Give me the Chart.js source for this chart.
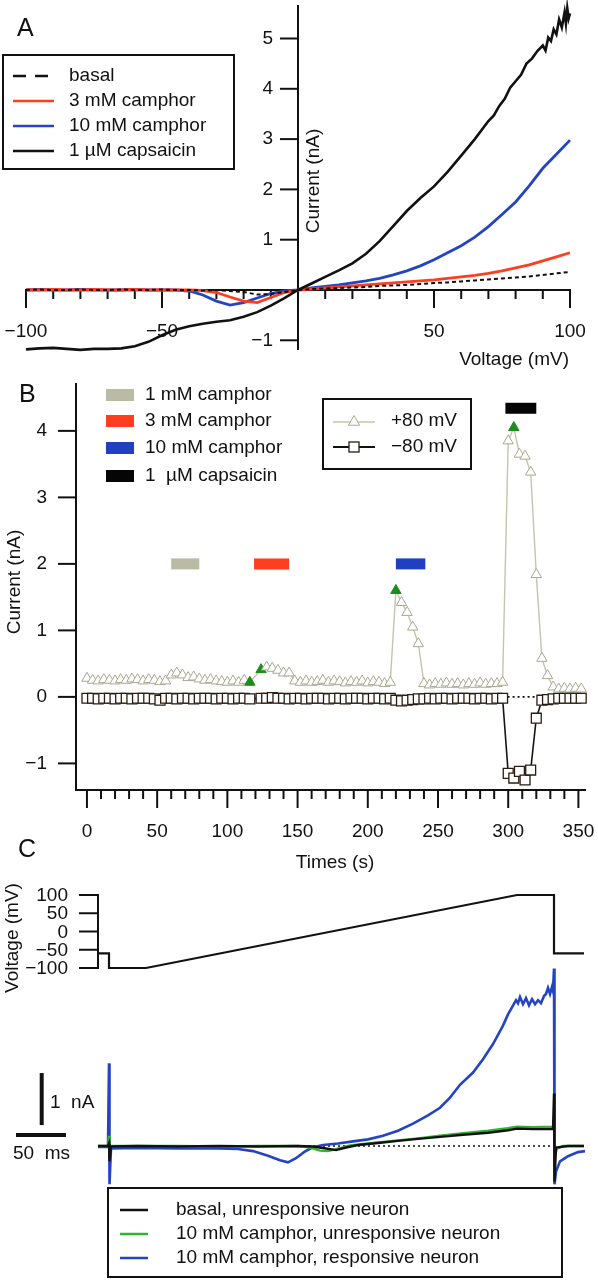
<!DOCTYPE html>
<html lang="en">

<head>
  <meta charset="UTF-8">
  <title>Camphor and capsaicin currents</title>
  <style>
    body {
      margin: 0;
      background-color: #ffffff;
    }

    #figure {
      position: relative;
      width: 598px;
      height: 1280px;
    }

    #figure canvas {
      position: absolute;
      left: 0;
      top: 0;
    }
  </style>
</head>

<body>
  <div id="figure">
    <canvas id="chartA" width="598" height="1280"></canvas>
    <canvas id="chartB" width="598" height="1280"></canvas>
    <canvas id="chartV" width="598" height="1280"></canvas>
    <canvas id="chartC" width="598" height="1280"></canvas>
  </div>

  <script src="https://cdn.jsdelivr.net/npm/chart.js"></script>

  <script>
    // ---------- Panel A: I-V curves (mV, nA) ----------
    const ivVoltage = [-100, -95, -90, -85, -80, -75, -70, -65, -60, -55, -50, -45, -40, -35, -30, -25, -20, -15, -10, -5,
      0, 5, 10, 15, 20, 25, 30, 35, 40, 45, 50, 55, 60, 65, 70, 75, 80, 85, 90, 95, 100];
    const ivBasal = [0, 0.01, 0, 0, 0.01, 0, 0, 0.01, 0, 0, 0.01, 0, 0, -0.01, 0, -0.02, -0.04, -0.09, -0.08, -0.04,
      0, 0.02, 0.03, 0.04, 0.05, 0.06, 0.08, 0.09, 0.1, 0.12, 0.14, 0.15, 0.17, 0.19, 0.21, 0.23, 0.25, 0.27, 0.3, 0.33, 0.36];
    const ivCamphor3 = [0, 0, 0.01, 0, 0, 0.01, 0, 0, 0.01, 0, 0, 0, 0, -0.01, -0.05, -0.14, -0.22, -0.25, -0.15, -0.05,
      0, 0.02, 0.04, 0.06, 0.08, 0.1, 0.12, 0.14, 0.16, 0.18, 0.2, 0.23, 0.26, 0.29, 0.33, 0.38, 0.44, 0.5, 0.58, 0.66, 0.74];
    const ivCamphor10 = [0, 0.01, 0, 0, 0.01, 0, 0, 0, 0.01, 0, 0, 0, -0.02, -0.1, -0.22, -0.3, -0.25, -0.16, -0.07, -0.02,
      0, 0.04, 0.07, 0.1, 0.14, 0.18, 0.23, 0.3, 0.38, 0.48, 0.6, 0.74, 0.88, 1.05, 1.26, 1.5, 1.75, 2.07, 2.42, 2.7, 2.98];
    const capsVoltage = [-100, -95, -90, -85, -80, -75, -70, -65, -60, -55, -50, -45, -40, -35, -30, -25, -20, -15, -10, -5,
      0, 5, 10, 15, 20, 25, 30, 35, 40, 45, 50, 55, 60, 65, 70, 72, 74, 76, 78, 80, 82, 84, 86, 88, 90,
      91, 92, 93, 94, 95, 96, 97, 98, 98.5, 99, 99.5, 100];
    const capsCurrent = [-1.18, -1.16, -1.15, -1.17, -1.19, -1.17, -1.17, -1.16, -1.12, -1.03, -0.9, -0.79, -0.72, -0.67, -0.63, -0.6, -0.53, -0.44, -0.31, -0.16,
      0, 0.13, 0.26, 0.39, 0.53, 0.72, 0.97, 1.27, 1.57, 1.83, 2.06, 2.35, 2.67, 3.0, 3.36, 3.47, 3.66, 3.8, 4.02, 4.15, 4.28, 4.5, 4.6, 4.75, 4.86,
      4.76, 5.02, 4.95, 5.18, 5.08, 5.38, 5.22, 5.52, 5.3, 5.6, 5.4, 5.5];
    const aLegend = ['basal', '3 mM camphor', '10 mM camphor', '1 µM capsaicin'];
    const aXMajor = [-100, -50, 50, 100];
    const aXMinor = [-90, -80, -70, -60, -40, -30, -20, -10, 10, 20, 30, 40, 60, 70, 80, 90];
    const aYTicks = [-1, 1, 2, 3, 4, 5];

    // ---------- Panel B: current at +80 / -80 mV over time (s, nA) ----------
    const bTimes = [0, 4, 8, 12, 16, 20, 24, 28, 32, 36, 40, 44, 48, 52, 56, 60, 64, 68, 72, 76, 80, 84, 88, 92, 96, 100, 104, 108, 112, 116,
      124, 128, 132, 136, 140, 144, 148, 152, 156, 160, 164, 168, 172, 176, 180, 184, 188, 192, 196, 200, 204, 208, 212, 216,
      220, 224, 228, 232, 236, 240, 244, 248, 252, 256, 260, 264, 268, 272, 276, 280, 284, 288, 292, 296,
      300, 304, 308, 312, 316, 320, 324, 328, 332, 336, 340, 344, 348, 352];
    const plus80 = [0.28, 0.25, 0.24, 0.26, 0.25, 0.24, 0.26, 0.25, 0.27, 0.26, 0.24, 0.26, 0.25, 0.23, 0.24, 0.33, 0.36, 0.33, 0.29, 0.3, 0.27, 0.25, 0.26, 0.24, 0.23, 0.22, 0.24, 0.22, 0.25, 0.22,
      0.41, 0.45, 0.43, 0.4, 0.36, 0.36, 0.24, 0.22, 0.24, 0.22, 0.23, 0.25, 0.22, 0.24, 0.23, 0.21, 0.23, 0.22, 0.24, 0.21, 0.23, 0.22, 0.2, 0.22,
      1.6, 1.42, 1.27, 1.05, 0.8, 0.2, 0.18, 0.2, 0.19, 0.21, 0.19, 0.2, 0.18, 0.2, 0.19, 0.21, 0.19, 0.2, 0.2, 0.22,
      3.85, 4.05, 3.65, 3.62, 3.38, 1.84, 0.58, 0.32, 0.15, 0.12, 0.13, 0.12, 0.13, 0.12];
    const minus80 = [-0.02, -0.02, -0.03, -0.02, -0.02, -0.03, -0.02, -0.02, -0.03, -0.02, -0.02, -0.02, -0.03, -0.05, -0.02, -0.02, -0.03, -0.02, -0.02, -0.03, -0.02, -0.02, -0.02, -0.03, -0.02, -0.02, -0.03, -0.02, -0.02, -0.03,
      -0.02, -0.02, -0.01, -0.02, -0.02, -0.03, -0.02, -0.02, -0.03, -0.02, -0.02, -0.02, -0.03, -0.02, -0.02, -0.03, -0.02, -0.02, -0.02, -0.03, -0.02, -0.02, -0.03, -0.02,
      -0.05, -0.06, -0.05, -0.04, -0.03, -0.03, -0.02, -0.03, -0.02, -0.02, -0.03, -0.02, -0.02, -0.02, -0.03, -0.02, -0.02, -0.03, -0.02, -0.02,
      -1.15, -1.22, -1.12, -1.25, -1.1, -0.32, -0.05, -0.04, -0.03, -0.02, -0.02, -0.02, -0.02, -0.02];
    const greenTimes = [116, 124, 220, 304];
    const zeroGapTimes = [296, 324];
    const stimNames = ['1 mM camphor', '3 mM camphor', '10 mM camphor', '1  µM capsaicin'];
    const stimStart = [60, 119, 220, 298];
    const stimEnd = [80, 144, 241, 320];
    const stimLevel = [2, 2, 2, 4.34];
    const stimColors = ['#b9bba5', '#ff3d1f', '#2040c0', '#050505'];
    const bXTicks = [0, 50, 100, 150, 200, 250, 300, 350];
    const bXMinor = [10, 20, 30, 40, 60, 70, 80, 90, 110, 120, 130, 140, 160, 170, 180, 190, 210, 220, 230, 240, 260, 270, 280, 290, 310, 320, 330, 340];
    const bYTicks = [-1, 0, 1, 2, 3, 4];

    // ---------- Panel C: ramp protocol and current traces (ms, mV / nA) ----------
    const rampTime = [0, 11, 11, 48, 419, 456, 456, 486];
    const rampVolt = [-60, -60, -100, -100, 100, 100, -60, -60];
    const vYTicks = [100, 50, 0, -50, -100];
    const basalTime = [0, 10, 11, 11.5, 13, 40, 80, 120, 160, 200, 215, 228, 238, 248, 260, 280, 300, 320, 342, 365, 390, 410, 419, 435, 455, 456, 456.5, 458, 470, 486];
    const basalCur = [0, 0, 0.05, -0.3, -0.01, 0, -0.01, 0, -0.01, 0, -0.01, -0.05, -0.08, -0.03, 0.02, 0.06, 0.1, 0.14, 0.18, 0.22, 0.26, 0.31, 0.34, 0.33, 0.33, 1.03, -0.7, -0.03, 0, 0];
    const unrespTime = [0, 10, 11, 11.5, 13, 40, 80, 120, 160, 200, 212, 222, 230, 240, 252, 270, 300, 320, 342, 365, 390, 410, 419, 435, 455, 456, 456.5, 459, 465, 486];
    const unrespCur = [0, 0, 0.2, -0.05, 0, 0, 0, -0.01, 0, 0, -0.03, -0.09, -0.1, -0.05, 0.01, 0.05, 0.11, 0.15, 0.2, 0.25, 0.3, 0.35, 0.38, 0.37, 0.38, 0.5, -0.2, -0.05, 0, 0];
    const respTime = [0, 10, 11, 11.5, 13, 40, 80, 120, 140, 155, 170, 182, 190, 198, 206, 214, 225, 240, 255, 270, 285, 300, 315, 330, 342, 352, 362, 375, 385, 395,
      405, 410, 414, 418, 420, 422, 425, 428, 431, 434, 437, 440, 443, 446, 448, 450, 452, 454, 455, 456, 456.5, 458, 462, 470, 480, 487];
    const respCur = [-0.02, -0.02, 1.62, -0.75, -0.05, -0.04, -0.05, -0.05, -0.06, -0.1, -0.19, -0.28, -0.32, -0.24, -0.12, -0.03, 0.02, 0.05, 0.09, 0.13, 0.2, 0.3, 0.44, 0.6, 0.75, 0.95, 1.2, 1.44, 1.7, 2.0,
      2.36, 2.58, 2.72, 2.86, 2.8, 2.92, 2.78, 2.9, 2.76, 2.88, 2.78, 2.86, 2.8, 2.94, 2.98, 3.1, 2.98, 3.12, 3.04, 3.48, -0.75, -0.5, -0.3, -0.2, -0.12, -0.1];
    const zeroTime = [0, 456];
    const cLegend = ['basal, unresponsive neuron', '10 mM camphor, unresponsive neuron', '10 mM camphor, responsive neuron'];

    const INK = '#111111';
    const FAMILY = "'Liberation Sans', Arial, Helvetica, sans-serif";
    const FONT = '19px ' + FAMILY;
    const LETTER = '25px ' + FAMILY;
    const RED = '#ff3d1f';
    const BLUE = '#2444c4';
    const GREEN = '#2fb52f';
    const TRI_LINE = '#c4c4b0';

    Chart.defaults.font.family = FAMILY;
    Chart.defaults.animation = false;
    Chart.defaults.events = [];
    Chart.defaults.plugins.legend.display = false;
    Chart.defaults.plugins.tooltip.enabled = false;

    function pairs(xs, ys) {
      return xs.map((x, i) => ({ x: x, y: ys[i] }));
    }

    function fmt(v) {
      return v < 0 ? '\u2212' + Math.abs(v) : String(v);
    }

    function seg(ctx, x1, y1, x2, y2) {
      ctx.beginPath();
      ctx.moveTo(x1, y1);
      ctx.lineTo(x2, y2);
      ctx.stroke();
    }

    function label(ctx, s, x, y, align, font, rotate) {
      ctx.save();
      ctx.fillStyle = INK;
      ctx.font = font || FONT;
      ctx.textAlign = align || 'left';
      ctx.textBaseline = 'middle';
      ctx.translate(x, y);
      if (rotate) ctx.rotate(-Math.PI / 2);
      ctx.fillText(s, 0, 0);
      ctx.restore();
    }

    function sampleLine(ctx, x1, x2, y, color, width, dash) {
      ctx.save();
      ctx.strokeStyle = color;
      ctx.lineWidth = width;
      ctx.setLineDash(dash || []);
      seg(ctx, x1, y, x2, y);
      ctx.restore();
    }

    function line(data, color, width, extra) {
      return Object.assign({
        data: data, borderColor: color, borderWidth: width,
        showLine: true, pointRadius: 0, clip: false
      }, extra || {});
    }

    // ---------- Panel A ----------
    const axesA = {
      id: 'axesA',
      beforeDatasetsDraw(chart) {
        const { ctx, scales: { x, y } } = chart;
        const ox = x.getPixelForValue(0), oy = y.getPixelForValue(0);
        ctx.save();
        ctx.strokeStyle = INK;
        ctx.lineWidth = 2;
        seg(ctx, ox, y.getPixelForValue(y.max), ox, y.getPixelForValue(y.min));
        seg(ctx, x.getPixelForValue(-100) - 1, oy, x.getPixelForValue(100) + 1, oy);
        aXMajor.forEach(v => seg(ctx, x.getPixelForValue(v), oy, x.getPixelForValue(v), oy + 18));
        aXMinor.forEach(v => seg(ctx, x.getPixelForValue(v), oy, x.getPixelForValue(v), oy + 9));
        aYTicks.forEach(v => seg(ctx, ox - 18, y.getPixelForValue(v), ox, y.getPixelForValue(v)));
        ctx.restore();
        aXMajor.forEach(v => label(ctx, fmt(v), x.getPixelForValue(v), oy + 42, 'center'));
        aYTicks.forEach(v => label(ctx, fmt(v), ox - 25, y.getPixelForValue(v), 'right'));
      },
      afterDraw(chart) {
        const { ctx } = chart;
        label(ctx, 'A', 17, 29, 'left', LETTER);
        label(ctx, 'Current (nA)', 314, 181, 'center', FONT, true);
        label(ctx, 'Voltage (mV)', 569, 360, 'right');
        ctx.save();
        ctx.strokeStyle = INK;
        ctx.lineWidth = 2;
        ctx.strokeRect(3, 55, 231, 114);
        ctx.restore();
        const rows = [76, 101, 126, 151];
        sampleLine(ctx, 13, 54, rows[0], INK, 2.5, [13, 9]);
        sampleLine(ctx, 13, 54, rows[1], RED, 2.5);
        sampleLine(ctx, 13, 54, rows[2], BLUE, 2.5);
        sampleLine(ctx, 13, 54, rows[3], INK, 2.5);
        aLegend.forEach((s, i) => label(ctx, s, 69, rows[i]));
      }
    };

    new Chart(document.getElementById('chartA'), {
      type: 'scatter',
      data: {
        datasets: [
          line(pairs(capsVoltage, capsCurrent), INK, 2.6),
          line(pairs(ivVoltage, ivBasal), INK, 2, { borderDash: [4, 3] }),
          line(pairs(ivVoltage, ivCamphor3), RED, 2.8),
          line(pairs(ivVoltage, ivCamphor10), BLUE, 2.8)
        ]
      },
      options: {
        responsive: false,
        layout: { padding: { left: 26, right: 28, top: 5, bottom: 930 } },
        scales: {
          x: { type: 'linear', display: false, min: -100, max: 100 },
          y: { type: 'linear', display: false, min: -1.193, max: 5.666 }
        }
      },
      plugins: [axesA]
    });

    // ---------- Panel B ----------
    function triangle(ctx, cx, cy, r, fill, stroke) {
      ctx.save();
      ctx.beginPath();
      ctx.moveTo(cx, cy - r);
      ctx.lineTo(cx + r * 0.866, cy + r * 0.5);
      ctx.lineTo(cx - r * 0.866, cy + r * 0.5);
      ctx.closePath();
      ctx.fillStyle = fill;
      ctx.fill();
      ctx.strokeStyle = stroke;
      ctx.lineWidth = 1;
      ctx.stroke();
      ctx.restore();
    }

    const axesB = {
      id: 'axesB',
      beforeDatasetsDraw(chart) {
        const { ctx, chartArea: area, scales: { x, y } } = chart;
        ctx.save();
        ctx.strokeStyle = INK;
        ctx.lineWidth = 2;
        seg(ctx, area.left, area.top, area.left, area.bottom + 1);
        seg(ctx, area.left - 1, area.bottom, area.right, area.bottom);
        bXTicks.forEach(v => seg(ctx, x.getPixelForValue(v), area.bottom, x.getPixelForValue(v), area.bottom + 18));
        bXMinor.forEach(v => seg(ctx, x.getPixelForValue(v), area.bottom, x.getPixelForValue(v), area.bottom + 9));
        bYTicks.forEach(v => seg(ctx, area.left - 18, y.getPixelForValue(v), area.left, y.getPixelForValue(v)));
        ctx.restore();
        bXTicks.forEach(v => label(ctx, fmt(v), x.getPixelForValue(v), area.bottom + 42, 'center'));
        bYTicks.forEach(v => label(ctx, fmt(v), area.left - 29, y.getPixelForValue(v), 'right'));
      },
      afterDraw(chart) {
        const { ctx } = chart;
        label(ctx, 'B', 19, 395, 'left', LETTER);
        label(ctx, 'Current (nA)', 15, 582, 'center', FONT, true);
        label(ctx, 'Times (s)', 335, 863, 'center');
        const rows = [395, 421, 448, 476];
        stimNames.forEach((s, i) => {
          ctx.fillStyle = stimColors[i];
          ctx.fillRect(106, rows[i] - 6, 28, 12);
          label(ctx, s, 145, rows[i]);
        });
        ctx.save();
        ctx.strokeStyle = INK;
        ctx.lineWidth = 2;
        ctx.strokeRect(323, 399, 148, 70);
        ctx.restore();
        sampleLine(ctx, 333, 375, 422, TRI_LINE, 1.5);
        triangle(ctx, 354, 422, 6.5, '#ffffff', '#a9a893');
        sampleLine(ctx, 333, 375, 447, INK, 2);
        ctx.fillStyle = '#ffffff';
        ctx.fillRect(349, 442, 10, 10);
        ctx.strokeStyle = '#2a1c12';
        ctx.lineWidth = 1.3;
        ctx.strokeRect(349, 442, 10, 10);
        label(ctx, '+80 mV', 391, 421);
        label(ctx, '\u221280 mV', 391, 447);
      }
    };

    const stimSets = stimStart.map((t0, i) =>
      line(pairs([t0, stimEnd[i]], [stimLevel[i], stimLevel[i]]), stimColors[i], 11, { borderCapStyle: 'butt' }));

    new Chart(document.getElementById('chartB'), {
      type: 'scatter',
      data: {
        datasets: [
          line(pairs(bTimes, minus80), '#1a1410', 1.6, {
            pointStyle: 'rect', pointRadius: 7, pointBackgroundColor: '#ffffff',
            pointBorderColor: '#2a1c12', pointBorderWidth: 1.3
          }),
          line(pairs(bTimes, plus80), TRI_LINE, 1.4, {
            pointStyle: 'triangle', pointRadius: 6, pointBorderWidth: 1,
            pointBackgroundColor: c => greenTimes.includes(bTimes[c.dataIndex]) ? '#1c8c1c' : '#ffffff',
            pointBorderColor: c => greenTimes.includes(bTimes[c.dataIndex]) ? '#1c8c1c' : '#a9a893'
          }),
          line(pairs(zeroGapTimes, [0, 0]), INK, 1.6, { borderDash: [2, 3] })
        ].concat(stimSets)
      },
      options: {
        responsive: false,
        layout: { padding: { left: 76, right: 12, top: 383, bottom: 490 } },
        scales: {
          x: { type: 'linear', display: false, min: -7.8, max: 355.4 },
          y: { type: 'linear', display: false, min: -1.4, max: 4.72 }
        }
      },
      plugins: [axesB]
    });

    // ---------- Panel C: voltage protocol ----------
    const axesV = {
      id: 'axesV',
      beforeDatasetsDraw(chart) {
        const { ctx, scales: { x, y } } = chart;
        const ox = x.getPixelForValue(0);
        ctx.save();
        ctx.strokeStyle = INK;
        ctx.lineWidth = 2;
        seg(ctx, ox, y.getPixelForValue(100) - 1, ox, y.getPixelForValue(-100) + 1);
        vYTicks.forEach(v => seg(ctx, ox - 19, y.getPixelForValue(v), ox, y.getPixelForValue(v)));
        ctx.restore();
        vYTicks.forEach(v => label(ctx, fmt(v), ox - 30, y.getPixelForValue(v) + 1, 'right'));
      },
      afterDraw(chart) {
        label(chart.ctx, 'Voltage (mV)', 13, 938, 'center', FONT, true);
      }
    };

    new Chart(document.getElementById('chartV'), {
      type: 'scatter',
      data: { datasets: [line(pairs(rampTime, rampVolt), INK, 2.2)] },
      options: {
        responsive: false,
        layout: { padding: { left: 98, right: 10, top: 895, bottom: 312 } },
        scales: {
          x: { type: 'linear', display: false, min: 0, max: 490 },
          y: { type: 'linear', display: false, min: -100, max: 100 }
        }
      },
      plugins: [axesV]
    });

    // ---------- Panel C: current traces ----------
    const axesC = {
      id: 'axesC',
      afterDraw(chart) {
        const { ctx, scales: { x, y } } = chart;
        label(ctx, 'C', 18, 850, 'left', LETTER);
        ctx.save();
        ctx.strokeStyle = INK;
        ctx.lineWidth = 4;
        seg(ctx, x.getPixelForValue(-56.3), y.getPixelForValue(1.43), x.getPixelForValue(-56.3), y.getPixelForValue(0.41));
        seg(ctx, x.getPixelForValue(-82), y.getPixelForValue(0.215), x.getPixelForValue(-32), y.getPixelForValue(0.215));
        ctx.lineWidth = 2;
        ctx.strokeRect(108, 1188, 454, 89);
        ctx.restore();
        label(ctx, '1  nA', 50, 1103);
        label(ctx, '50  ms', 13, 1154);
        const rows = [1210, 1234, 1258];
        sampleLine(ctx, 120, 148, rows[0], INK, 2.5);
        sampleLine(ctx, 120, 148, rows[1], GREEN, 2.5);
        sampleLine(ctx, 120, 148, rows[2], BLUE, 2.5);
        cLegend.forEach((s, i) => label(ctx, s, 176, rows[i]));
      }
    };

    new Chart(document.getElementById('chartC'), {
      type: 'scatter',
      data: {
        datasets: [
          line(pairs(basalTime, basalCur), INK, 2.4),
          line(pairs(unrespTime, unrespCur), GREEN, 2.4),
          line(pairs(respTime, respCur), BLUE, 2.6),
          line(pairs(zeroTime, [0, 0]), INK, 1.6, { borderDash: [2, 3] })
        ]
      },
      options: {
        responsive: false,
        layout: { padding: { left: 98, right: 10, top: 942, bottom: 83 } },
        scales: {
          x: { type: 'linear', display: false, min: 0, max: 490 },
          y: { type: 'linear', display: false, min: -1, max: 4 }
        }
      },
      plugins: [axesC]
    });
  </script>
</body>

</html>
